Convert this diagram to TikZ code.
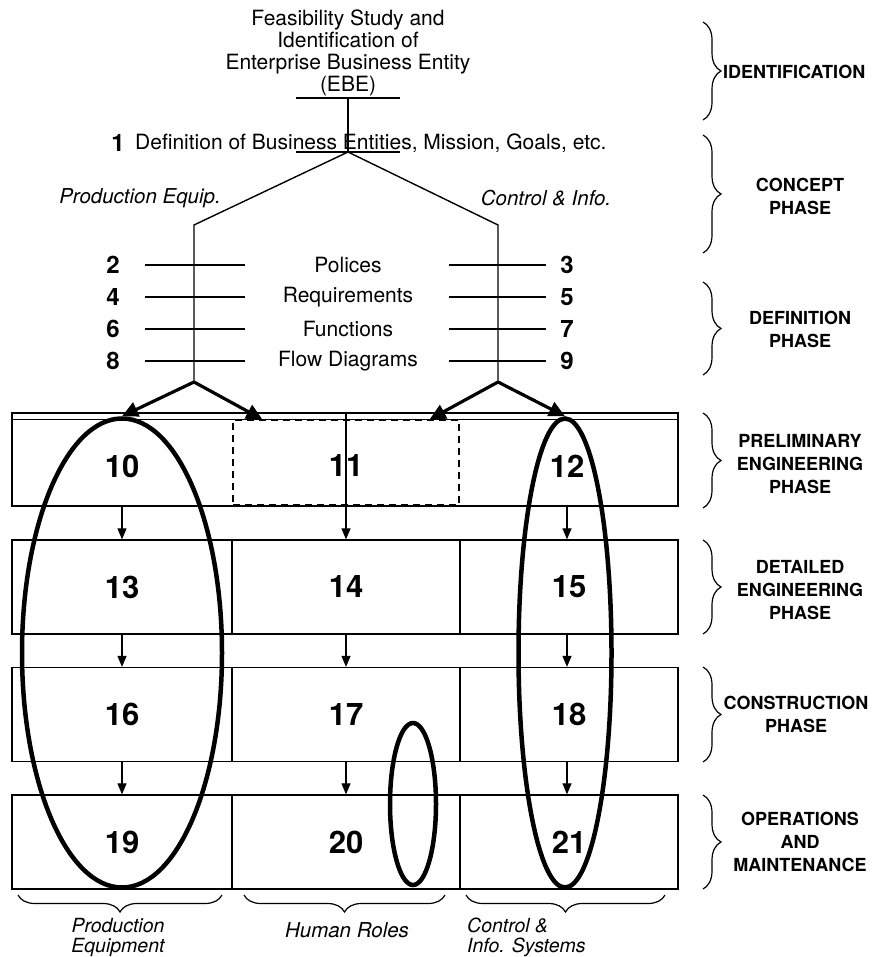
\documentclass[tikz,border=0pt]{standalone}
\usepackage{fontspec}
\setmainfont{TeX Gyre Heros}
\usetikzlibrary{arrows.meta,positioning,decorations.pathreplacing,shapes.geometric}

\begin{document}
\begin{tikzpicture}[x=1pt, y=-1pt]
    % Styles
    \tikzset{
        txt/.style={font=\fontsize{21}{22}\selectfont, inner sep=0pt, align=center},
        itl/.style={font=\fontsize{20.5}{18}\selectfont\itshape, inner sep=0pt},
        num/.style={font=\fontsize{24}{24}\selectfont\bfseries, inner sep=0pt},
        cellnum/.style={font=\fontsize{31}{31}\selectfont\bfseries, inner sep=0pt},
        phase/.style={font=\fontsize{18}{23}\selectfont\bfseries, align=center, inner sep=0pt},
        tickbar/.style={minimum width=#1, minimum height=0pt, inner sep=0pt, outer sep=0pt},
        cell/.style={draw, line width=1.3pt, minimum height=94pt, inner sep=0pt, font=\fontsize{31}{31}\selectfont\bfseries},
        loopring/.style={draw, ellipse, line width=4.5pt, inner sep=0pt},
        flow/.style={-{Triangle[length=11pt,width=9pt]}, line width=1.2pt},
        fork/.style={-{Triangle[length=16pt,width=15pt]}, line width=3.2pt},
        sidebrace/.style={decorate, decoration={brace, amplitude=#1}, line width=1.2pt},
    }
    \useasboundingbox (0,0) rectangle (880,957);

    % --- Identification ---
    \node[txt] (feas) at (348,53) {Feasibility Study and\\Identification of\\Enterprise Business Entity\\(EBE)};
    \node[tickbar=104pt] (ebebar) at (348,98) {};
    \node[num] (n1) at (118,143) {1};
    \node[txt, anchor=west] (def) at (135,143) {Definition of Business Entities, Mission, Goals, etc.};
    \node[tickbar=104pt] (defbar) at (348,152) {};
    \draw[line width=1.6pt] (ebebar.west) -- (ebebar.east);
    \draw[line width=1.6pt] (defbar.west) -- (defbar.east);
    \draw[line width=1.3pt] (ebebar.center) -- (defbar.center);

    % --- Concept split ---
    \node[itl] (peq) at (140,198) {Production Equip.};
    \node[itl] (cinf) at (546,198) {Control \& Info.};
    \coordinate (peTop) at (194,225);
    \coordinate (ciTop) at (498,225);
    \coordinate (peSplit) at (194,382);
    \coordinate (ciSplit) at (498,382);
    \draw[line width=1.4pt] (defbar.center) -- (peTop) -- (peSplit);
    \draw[line width=1.4pt] (defbar.center) -- (ciTop) -- (ciSplit);

    % --- Definition rows ---
    \node[num] (n2) at (113,265) {2};
    \node[txt] (pol) at (348,265) {Polices};
    \node[num] (n3) at (567,265) {3};
    \node[num] (n4) at (113,297) {4};
    \node[txt] (req) at (348,297) {Requirements};
    \node[num] (n5) at (567,297) {5};
    \node[num] (n6) at (113,329) {6};
    \node[txt] (fun) at (348,329) {Functions};
    \node[num] (n7) at (567,329) {7};
    \node[num] (n8) at (113,361) {8};
    \node[txt] (flo) at (348,361) {Flow Diagrams};
    \node[num] (n9) at (567,361) {9};

    \node[tickbar=100pt] (k2) at (195,265) {};
    \node[tickbar=97pt] (k3) at (497,265) {};
    \node[tickbar=100pt] (k4) at (195,297) {};
    \node[tickbar=97pt] (k5) at (497,297) {};
    \node[tickbar=100pt] (k6) at (195,329) {};
    \node[tickbar=97pt] (k7) at (497,329) {};
    \node[tickbar=100pt] (k8) at (195,361) {};
    \node[tickbar=97pt] (k9) at (497,361) {};
    \draw[line width=1.5pt] (k2.west) -- (k2.east);
    \draw[line width=1.5pt] (k3.west) -- (k3.east);
    \draw[line width=1.5pt] (k4.west) -- (k4.east);
    \draw[line width=1.5pt] (k5.west) -- (k5.east);
    \draw[line width=1.5pt] (k6.west) -- (k6.east);
    \draw[line width=1.5pt] (k7.west) -- (k7.east);
    \draw[line width=1.5pt] (k8.west) -- (k8.east);
    \draw[line width=1.5pt] (k9.west) -- (k9.east);

    % --- Preliminary engineering ---
    \node[draw, line width=1.3pt, minimum width=666pt, minimum height=93pt, inner sep=0pt] (r1) at (345,459.5) {};
    \draw[line width=1.3pt] ([yshift=-7pt]r1.north west) -- ([yshift=-7pt]r1.north east);
    \node[draw, dashed, dash pattern=on 7pt off 5pt, line width=1.3pt, minimum width=226pt, minimum height=85pt] (d11) at (346,462.5) {};
    \node[cellnum] (n10) at (122,466) {10};
    \node[cellnum] (n11) at (346,466) {11};
    \node[cellnum] (n12) at (567,466) {12};

    % --- Detailed engineering, construction, operations ---
    \node[cell, minimum width=220pt] (c13) at (122,587) {13};
    \node[cell, minimum width=228pt] (c14) at (346,587) {14};
    \node[cell, minimum width=218pt] (c15) at (569,587) {15};
    \node[cell, minimum width=220pt] (c16) at (122,714.5) {16};
    \node[cell, minimum width=228pt] (c17) at (346,714.5) {17};
    \node[cell, minimum width=218pt] (c18) at (569,714.5) {18};
    \node[cell, minimum width=220pt] (c19) at (122,842) {19};
    \node[cell, minimum width=228pt] (c20) at (346,842) {20};
    \node[cell, minimum width=218pt] (c21) at (569,842) {21};

    \draw[flow] (r1.south -| n10) -- (c13.north -| n10);
    \draw[flow] (r1.north -| c14) -- (c14.north);
    \draw[flow] (r1.south -| n12) -- (c15.north -| n12);
    \draw[flow] (c13.south -| n10) -- (c16.north -| n10);
    \draw[flow] (c14.south) -- (c17.north);
    \draw[flow] (c15.south -| n12) -- (c18.north -| n12);
    \draw[flow] (c16.south -| n10) -- (c19.north -| n10);
    \draw[flow] (c17.south) -- (c20.north);
    \draw[flow] (c18.south -| n12) -- (c21.north -| n12);

    % --- Loops ---
    \node[loopring, minimum width=200pt, minimum height=469pt] (peLoop) at (122,653) {};
    \node[loopring, minimum width=93pt, minimum height=469pt] (ciLoop) at (565,653) {};
    \node[loopring, minimum width=46pt, minimum height=162pt] (hrLoop) at (413,804) {};

    \draw[fork] (peSplit) -- (peLoop.north);
    \draw[fork] (peSplit) -- ([xshift=30pt]d11.north west);
    \draw[fork] (ciSplit) -- ([xshift=-30pt]d11.north east);
    \draw[fork] (ciSplit) -- (ciLoop.north);

    % --- Phase braces ---
    \draw[sidebrace=18pt] (703,22) -- (703,120);
    \draw[sidebrace=18pt] (703,135) -- (703,253);
    \draw[sidebrace=18pt] (703,282) -- (703,375);
    \draw[sidebrace=18pt] (703,413) -- (703,508);
    \draw[sidebrace=18pt] (703,540) -- (703,634);
    \draw[sidebrace=18pt] (703,667) -- (703,762);
    \draw[sidebrace=18pt] (703,795) -- (703,889);
    \node[phase, anchor=west] (pid) at (723,72) {IDENTIFICATION};
    \node[phase] (pco) at (800,196) {CONCEPT\\PHASE};
    \node[phase] (pde) at (800,329) {DEFINITION\\PHASE};
    \node[phase] (ppr) at (800,464) {PRELIMINARY\\ENGINEERING\\PHASE};
    \node[phase] (pdt) at (800,590) {DETAILED\\ENGINEERING\\PHASE};
    \node[phase] (pcn) at (796,714) {CONSTRUCTION\\PHASE};
    \node[phase] (pop) at (800,842) {OPERATIONS\\AND\\MAINTENANCE};

    % --- Column braces ---
    \draw[sidebrace=17pt] (222,895) -- (18,895);
    \draw[sidebrace=17pt] (445,895) -- (244,895);
    \draw[sidebrace=17pt] (665,895) -- (466,895);
    \node[itl, font=\fontsize{19.5}{20}\selectfont\itshape, align=center] (lpe) at (118,937) {Production\\Equipment};
    \node[itl] (lhr) at (347,930) {Human Roles};
    \node[itl, font=\fontsize{19.5}{20}\selectfont\itshape, align=left, anchor=west] (lci) at (467,937) {Control \&\\Info. Systems};
\end{tikzpicture}
\end{document}
